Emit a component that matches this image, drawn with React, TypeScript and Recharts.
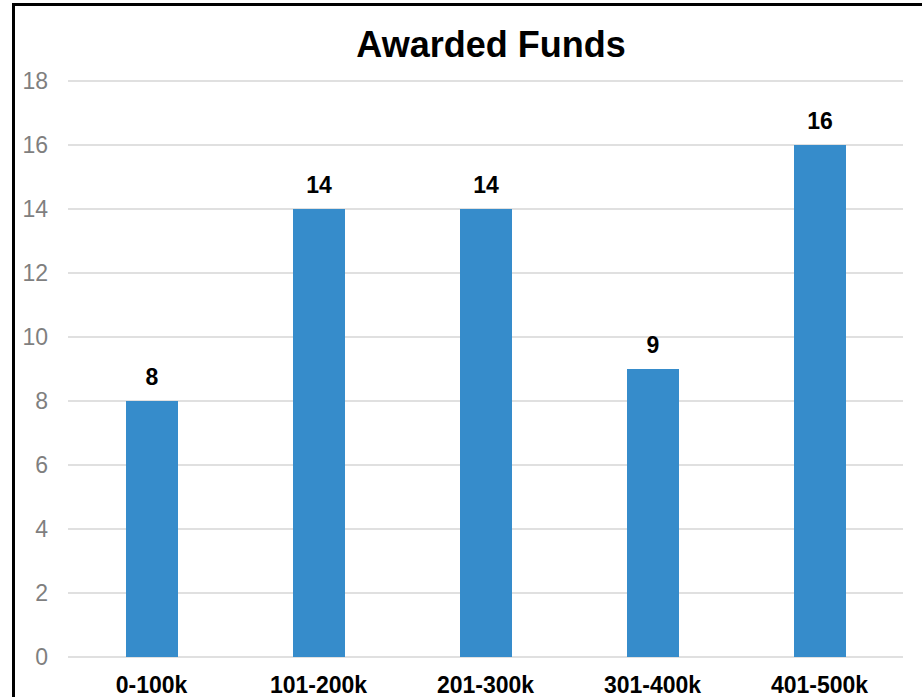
import { Bar, BarChart, CartesianGrid, LabelList, XAxis, YAxis } from 'recharts';

const categories = ['0-100k', '101-200k', '201-300k', '301-400k', '401-500k'];
const awards = [8, 14, 14, 9, 16];
const yTicks = [0, 2, 4, 6, 8, 10, 12, 14, 16, 18];

const data = categories.map((range, i) => ({ range, awards: awards[i] }));

const font = 'Arial, "Liberation Sans", sans-serif';

export default function App() {
  return (
    <div style={{ position: 'absolute', left: 0, top: 0, width: 922, height: 697, overflow: 'hidden', background: '#fff' }}>
      <div
        style={{
          position: 'absolute',
          left: 12,
          top: 3,
          width: 960,
          height: 740,
          border: '3px solid #000',
          boxSizing: 'border-box',
        }}
      />
      <div
        style={{
          position: 'absolute',
          left: 0,
          right: 0,
          top: 24,
          textAlign: 'center',
          paddingLeft: 60,
          fontFamily: font,
          fontWeight: 'bold',
          fontSize: 36,
          color: '#000',
        }}
      >
        Awarded Funds
      </div>
      <div style={{ position: 'absolute', left: 0, top: 0 }}>
        <BarChart width={922} height={697} data={data} margin={{ top: 81, right: 19, bottom: 0, left: 0 }} barSize={52}>
          <CartesianGrid vertical={false} stroke="#e0e0e0" strokeWidth={2} />
          <XAxis
            dataKey="range"
            height={40}
            axisLine={false}
            tickLine={false}
            tickSize={0}
            tickMargin={20}
            tick={{ fill: '#000', fontSize: 23, fontWeight: 'bold', fontFamily: font }}
          />
          <YAxis
            width={68}
            domain={[0, 18]}
            ticks={yTicks}
            axisLine={false}
            tickLine={false}
            tickSize={0}
            tickMargin={20}
            tick={{ fill: '#7f7f7f', fontSize: 23, fontFamily: font }}
          />
          <Bar dataKey="awards" fill="#368ccb" isAnimationActive={false}>
            <LabelList
              dataKey="awards"
              position="top"
              offset={16}
              style={{ fill: '#000', fontSize: 23, fontWeight: 'bold', fontFamily: font }}
            />
          </Bar>
        </BarChart>
      </div>
    </div>
  );
}
